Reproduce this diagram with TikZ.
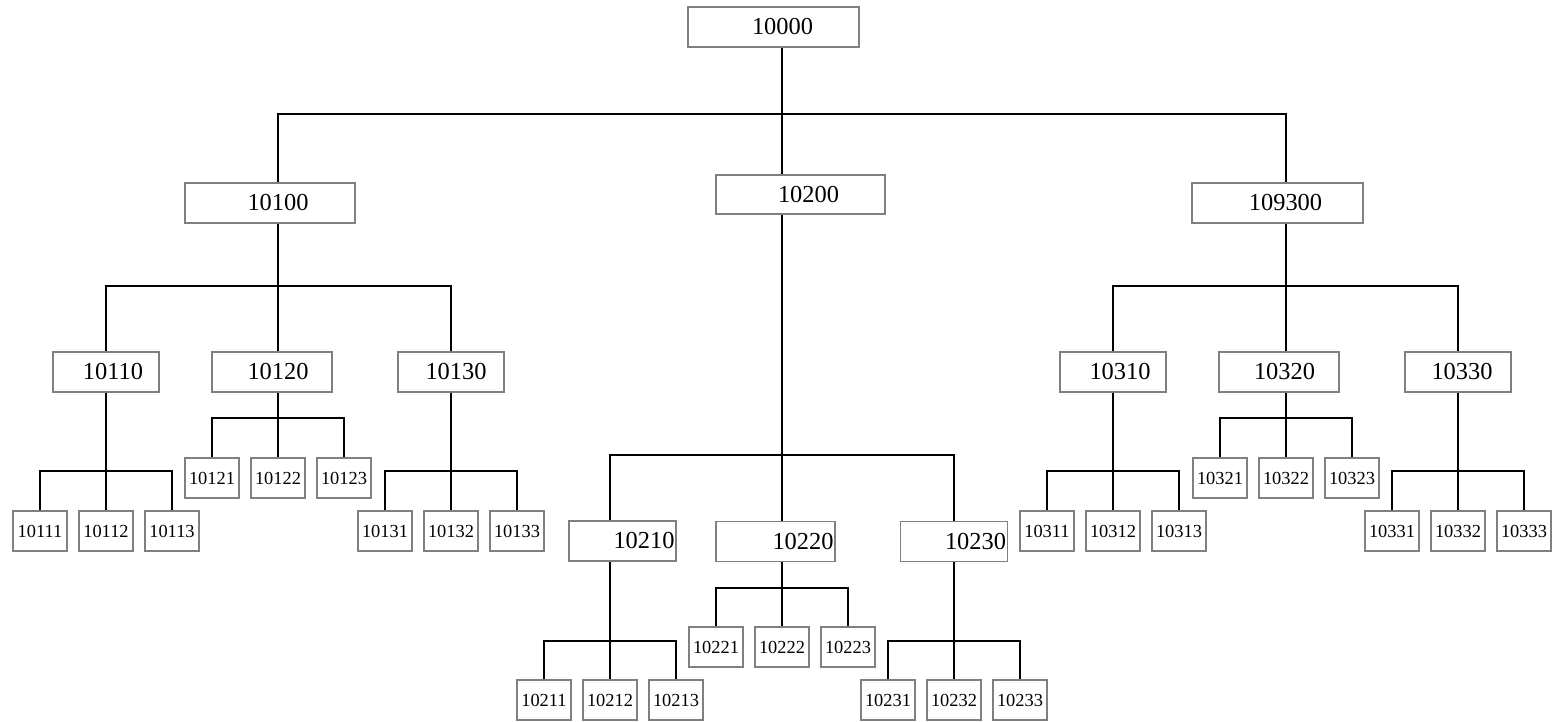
\documentclass[tikz,border=0pt]{standalone}
\usepackage{fontspec}
\setmainfont{Liberation Serif}

\tikzset{
  frame/.style={draw=gray, line width=0.7pt, inner sep=0pt, minimum height=20pt},
  bigbox/.style={frame, font=\fontsize{12.2}{14}\selectfont},
  smallbox/.style={frame, minimum width=27pt, font=\fontsize{9.2}{11}\selectfont},
  link/.style={line width=1pt}
}

\begin{document}
\begin{tikzpicture}[x=0.5pt,y=-0.5pt]
	\useasboundingbox (0,0) rectangle (1555,722);

	% top level
	\node[bigbox, minimum width=85.5pt] (n10000) at (773.5,27) {\hspace*{9pt}10000};

	% second level
	\node[bigbox, minimum width=85pt] (n10100) at (270,203) {\hspace*{8pt}10100};
	\node[bigbox, minimum width=84.5pt, minimum height=19.5pt] (n10200) at (800.5,194.5) {\hspace*{8pt}10200};
	\node[bigbox, minimum width=85.5pt] (n10300) at (1277.5,203) {\hspace*{8pt}109300};

	% third level
	\node[bigbox, minimum width=53pt] (n10110) at (106,372) {\hspace*{7pt}10110};
	\node[bigbox, minimum width=60pt] (n10120) at (272,372) {\hspace*{6pt}10120};
	\node[bigbox, minimum width=53pt] (n10130) at (451,372) {\hspace*{5pt}10130};
	\node[bigbox, minimum width=53.5pt] (n10210) at (622.5,541) {\hspace*{21.5pt}10210};
	\node[bigbox, minimum width=59.5pt] (n10220) at (775.5,541.5) {\hspace*{27.5pt}10220};
	\node[bigbox, minimum width=53.5pt] (n10230) at (954,541.5) {\hspace*{21.5pt}10230};
	\node[bigbox, minimum width=53pt] (n10310) at (1113,372) {\hspace*{7pt}10310};
	\node[bigbox, minimum width=60pt] (n10320) at (1279,372) {\hspace*{5.5pt}10320};
	\node[bigbox, minimum width=53pt] (n10330) at (1458,372) {\hspace*{4pt}10330};

	% leaves
	\node[smallbox] (n10111) at (40,531) {10111};
	\node[smallbox] (n10112) at (106,531) {10112};
	\node[smallbox] (n10113) at (172,531) {10113};
	\node[smallbox] (n10121) at (212,478) {10121};
	\node[smallbox] (n10122) at (278,478) {10122};
	\node[smallbox] (n10123) at (344,478) {10123};
	\node[smallbox] (n10131) at (385,531) {10131};
	\node[smallbox] (n10132) at (451,531) {10132};
	\node[smallbox] (n10133) at (517,531) {10133};
	\node[smallbox] (n10211) at (544,700) {10211};
	\node[smallbox] (n10212) at (610,700) {10212};
	\node[smallbox] (n10213) at (676,700) {10213};
	\node[smallbox] (n10221) at (716,647) {10221};
	\node[smallbox] (n10222) at (782,647) {10222};
	\node[smallbox] (n10223) at (848,647) {10223};
	\node[smallbox] (n10231) at (888,700) {10231};
	\node[smallbox] (n10232) at (954,700) {10232};
	\node[smallbox] (n10233) at (1020,700) {10233};
	\node[smallbox] (n10311) at (1047,531) {10311};
	\node[smallbox] (n10312) at (1113,531) {10312};
	\node[smallbox] (n10313) at (1179,531) {10313};
	\node[smallbox] (n10321) at (1220,478) {10321};
	\node[smallbox] (n10322) at (1286,478) {10322};
	\node[smallbox] (n10323) at (1352,478) {10323};
	\node[smallbox] (n10331) at (1392,531) {10331};
	\node[smallbox] (n10332) at (1458,531) {10332};
	\node[smallbox] (n10333) at (1524,531) {10333};

	% branch points
	\coordinate (b10000) at (782,114);
	\coordinate (b10100) at (278,286);
	\coordinate (b10200) at (782,455);
	\coordinate (b10300) at (1286,286);
	\coordinate (b10110) at (106,471);
	\coordinate (b10120) at (278,418);
	\coordinate (b10130) at (451,471);
	\coordinate (b10210) at (610,641);
	\coordinate (b10220) at (782,588);
	\coordinate (b10230) at (954,641);
	\coordinate (b10310) at (1113,471);
	\coordinate (b10320) at (1286,418);
	\coordinate (b10330) at (1458,471);

	% connectors
	\draw[link] ([xshift=4.25pt]n10000.south) -- (b10000);
	\draw[link] ([xshift=4pt]n10100.north) |- (b10000) -| ([xshift=4.25pt]n10300.north);
	\draw[link] (b10000) -- ([xshift=-9.25pt]n10200.north);

	\draw[link] ([xshift=4pt]n10100.south) -- (b10100);
	\draw[link] (n10110.north) |- (b10100) -| (n10130.north);
	\draw[link] (b10100) -- ([xshift=3pt]n10120.north);

	\draw[link] ([xshift=-9.25pt]n10200.south) -- (b10200);
	\draw[link] ([xshift=-6.25pt]n10210.north) |- (b10200) -| (n10230.north);
	\draw[link] (b10200) -- ([xshift=3.25pt]n10220.north);

	\draw[link] ([xshift=4.25pt]n10300.south) -- (b10300);
	\draw[link] (n10310.north) |- (b10300) -| (n10330.north);
	\draw[link] (b10300) -- ([xshift=3.5pt]n10320.north);

	\draw[link] (n10110.south) -- (b10110);
	\draw[link] (n10111.north) |- (b10110) -| (n10113.north);
	\draw[link] (b10110) -- (n10112.north);

	\draw[link] ([xshift=3pt]n10120.south) -- (b10120);
	\draw[link] (n10121.north) |- (b10120) -| (n10123.north);
	\draw[link] (b10120) -- (n10122.north);

	\draw[link] (n10130.south) -- (b10130);
	\draw[link] (n10131.north) |- (b10130) -| (n10133.north);
	\draw[link] (b10130) -- (n10132.north);

	\draw[link] ([xshift=-6.25pt]n10210.south) -- (b10210);
	\draw[link] (n10211.north) |- (b10210) -| (n10213.north);
	\draw[link] (b10210) -- (n10212.north);

	\draw[link] ([xshift=3.25pt]n10220.south) -- (b10220);
	\draw[link] (n10221.north) |- (b10220) -| (n10223.north);
	\draw[link] (b10220) -- (n10222.north);

	\draw[link] (n10230.south) -- (b10230);
	\draw[link] (n10231.north) |- (b10230) -| (n10233.north);
	\draw[link] (b10230) -- (n10232.north);

	\draw[link] (n10310.south) -- (b10310);
	\draw[link] (n10311.north) |- (b10310) -| (n10313.north);
	\draw[link] (b10310) -- (n10312.north);

	\draw[link] ([xshift=3.5pt]n10320.south) -- (b10320);
	\draw[link] (n10321.north) |- (b10320) -| (n10323.north);
	\draw[link] (b10320) -- (n10322.north);

	\draw[link] (n10330.south) -- (b10330);
	\draw[link] (n10331.north) |- (b10330) -| (n10333.north);
	\draw[link] (b10330) -- (n10332.north);
\end{tikzpicture}
\end{document}
